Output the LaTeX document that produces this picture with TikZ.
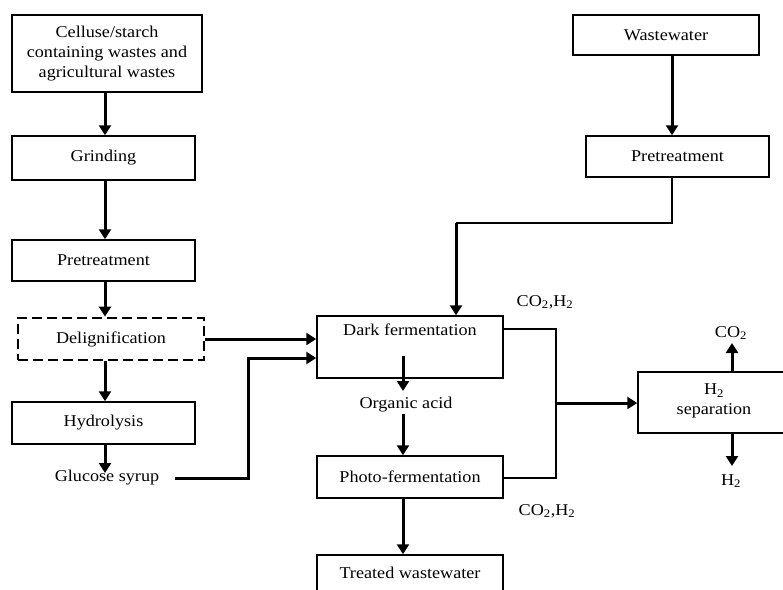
\documentclass[tikz,border=0pt]{standalone}
\usepackage{fontspec}
\setmainfont{Liberation Serif}[FakeStretch=1.1]
\usetikzlibrary{arrows.meta}
\begin{document}
\begin{tikzpicture}[x=1pt,y=-1pt,
  font=\fontsize{16.5}{20}\selectfont,
  box/.style={draw,line width=1.5pt,minimum width=#1,inner sep=0pt,align=center},
  dbox/.style={draw,line width=2.8pt,dash pattern=on 10pt off 5pt,inner sep=0pt,align=center},
  lbl/.style={inner sep=0pt,align=center},
  thk/.style={line width=3pt,-{Triangle[length=10pt,width=12pt]}},
  thn/.style={line width=1.5pt}]
\useasboundingbox (0,0) rectangle (783,589);
% left column
\node[box=190pt,minimum height=77pt] (cel) at (107,53.5) {Celluse/starch\\containing wastes and\\agricultural wastes};
\node[box=183pt,minimum height=44pt] (gri) at (103.5,158) {Grinding};
\node[box=183pt,minimum height=41pt] (pt1) at (103.5,260.5) {Pretreatment};
\node[dbox,minimum width=186pt,minimum height=42pt] (del) at (111,339) {Delignification};
\node[box=183pt,minimum height=42pt] (hyd) at (103.5,423) {Hydrolysis};
\node[lbl] (glu) at (107,478) {Glucose syrup};
\coordinate (gtip) at (105,473);
\draw[thk] (cel.south -| 105,0) -- (gri.north -| 105,0);
\draw[thk] (gri.south -| 105,0) -- (pt1.north -| 105,0);
\draw[thk] (pt1.south -| 105,0) -- (del.north -| 105,0);
\draw[thk] (del.south -| 105,0) -- (hyd.north -| 105,0);
\draw[thk] (hyd.south -| 105,0) -- (gtip);
% middle column
\node[box=186pt,minimum height=62pt] (dark) at (410,347) {};
\node[lbl,anchor=north] (darkt) at (410,324) {Dark fermentation};
\node[lbl] (org) at (406,405) {Organic acid};
\node[box=186pt,minimum height=42pt] (photo) at (410,477) {Photo-fermentation};
\node[box=186pt,minimum height=50pt] (treat) at (410,580) {};
\node[lbl] (treatt) at (410,573) {Treated wastewater};
\coordinate (dstart) at (403,356);
\coordinate (oatop) at (403,391);
\coordinate (oabot) at (403,414);
\draw[thk] (dstart) -- (oatop);
\draw[thk] (oabot) -- (photo.north -| 403,0);
\draw[thk] (photo.south -| 403,0) -- (treat.north -| 403,0);
% inputs to dark fermentation
\draw[thk] (del.east) -- (dark.west |- del.east);
\coordinate (g1) at (175,478);
\draw[thk] (g1) -- (248,478) -- (248,358) -- (dark.west |- 0,358);
% right top
\node[box=186pt,minimum height=40pt] (ww) at (666,35) {Wastewater};
\node[box=183pt,minimum height=41pt] (pt2) at (677.5,156.5) {Pretreatment};
\draw[thk] (ww.south -| 672,0) -- (pt2.north -| 672,0);
\coordinate (c1) at (672,223);
\coordinate (c2) at (456,223);
\draw[thn] (pt2.south -| 672,0) -- (c1) -- (c2);
\draw[thk] (c2) -- (dark.north -| 456,0);
% gas collection
\coordinate (b1) at (556,329);
\coordinate (b2) at (556,478);
\coordinate (bm) at (556,403);
\draw[thn] (dark.east |- b1) -- (b1) -- (b2) -- (photo.east |- b2);
\node[box=152pt,minimum height=61pt] (sep) at (714,402.5) {};
\node[lbl] (sept) at (714,401) {H\textsubscript{2}\\separation};
\draw[thk] (bm) -- (sep.west |- bm);
\node[lbl] (co2) at (731,333) {CO\textsubscript{2}};
\node[lbl] (h2) at (731,481) {H\textsubscript{2}};
\draw[thk] (sep.north -| 732,0) -- (732,343);
\draw[thk] (sep.south -| 732,0) -- (732,466);
\node[lbl] (gas1) at (545,302) {CO\textsubscript{2},H\textsubscript{2}};
\node[lbl] (gas2) at (547,511) {CO\textsubscript{2},H\textsubscript{2}};
\end{tikzpicture}
\end{document}
